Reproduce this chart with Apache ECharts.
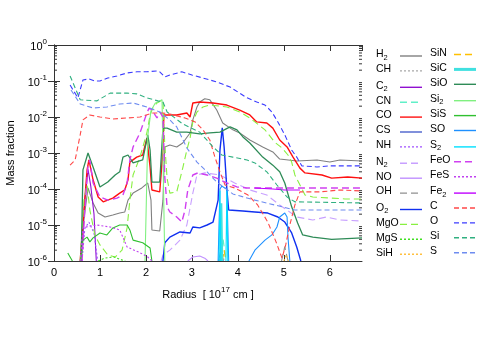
<!DOCTYPE html>
<html>
<head>
<meta charset="utf-8">
</head>
<body style="margin:0">
<div id="main" style="width:491px;height:343px"></div>
<script src="https://cdn.jsdelivr.net/npm/echarts@6/dist/echarts.min.js"></script>
<script>
// abundance profiles, [radius in 1e17 cm, mass fraction]
var H2 = [[0.59,1e-6],[0.65,1.4e-5],[0.74,1.07e-4],[0.85,4.1e-5],[0.96,2.15e-5],[1.11,1.67e-5],[1.28,1.9e-5],[1.43,2.15e-5],[1.54,2.3e-5],[1.61,4.9e-5],[1.72,7.7e-5],[1.91,1.07e-4],[2.04,1.47e-4],[2.11,4.9e-5],[2.13,7.3e-6],[2.30,6.8e-6],[2.37,4.9e-5],[2.41,1.47e-3],[2.52,1.67e-3],[2.67,1.47e-3],[2.80,1.9e-3],[2.96,3.6e-3],[3.02,8.3e-3],[3.11,1.9e-2],[3.17,2.6e-2],[3.28,3.2e-2],[3.39,3.0e-2],[3.54,1.56e-2],[3.67,6.8e-3],[3.89,4.4e-3],[4.04,3.6e-3],[4.26,2.3e-3],[4.54,1.47e-3],[4.76,1.07e-3],[4.91,6.8e-4],[5.28,6.0e-4],[5.72,6.4e-4],[6.0,5.6e-4],[6.22,6.4e-4],[6.7,6.0e-4]];
var CH = [[3.60,1e-6],[3.64,3e-6],[3.70,1e-6]];
var C2 = [[0.59,1e-6],[0.67,5e-5],[0.74,3.5e-4],[0.80,1.2e-4],[0.87,2e-5],[0.92,1e-6]];
var CN = [[3.62,1e-6],[3.68,4e-6],[3.74,1e-6]];
var CO = [[0.57,1e-6],[0.63,1.14e-5],[0.72,3.4e-4],[0.76,6.4e-4],[0.85,1.8e-4],[0.96,6.0e-5],[1.07,4.4e-5],[1.28,5.6e-5],[1.43,7.7e-5],[1.54,9.4e-5],[1.61,1.8e-4],[1.65,5.6e-4],[1.80,7.7e-4],[1.93,8.8e-4],[2.02,2.6e-3],[2.09,4.1e-4],[2.13,9.4e-5],[2.30,8.3e-5],[2.37,1.21e-3],[2.39,1.14e-2],[2.67,1.14e-2],[2.89,1.29e-2],[2.96,1.0e-2],[3.02,2.45e-2],[3.17,2.6e-2],[3.46,2.45e-2],[3.76,2.15e-2],[4.04,1.56e-2],[4.26,1.14e-2],[4.41,7.3e-3],[4.63,6.8e-3],[4.76,4.9e-3],[4.91,2.3e-3],[5.07,1.47e-3],[5.20,7.7e-4],[5.35,3.8e-4],[5.46,2.8e-4],[5.83,2.45e-4],[6.04,2.0e-4],[6.39,2.15e-4],[6.7,2.0e-4]];
var CS = [[3.58,1e-6],[3.63,2e-6],[3.68,1e-6]];
var NH = [[0.61,1e-6],[0.67,8e-6],[0.76,1.2e-5],[0.87,6e-6],[0.95,1e-6]];
var N2 = [[2.33,1e-6],[2.37,1.47e-6],[2.52,2.0e-6],[2.74,3.8e-6],[2.89,1.0e-5],[3.02,7.7e-5],[3.11,2.45e-4],[3.28,2.8e-4],[3.61,2.45e-4],[3.93,1.47e-4],[4.26,9.4e-5],[4.63,6.8e-5],[4.91,3.6e-5],[5.28,1.67e-5],[5.63,1.38e-5],[5.93,1.67e-5],[6.22,1.38e-5],[6.7,1.29e-5]];
var NO = [[2.91,1e-6],[3.02,1.29e-6],[3.17,1.38e-6],[3.28,1.2e-6],[3.35,1e-6]];
var OH = [[4.95,1e-6],[5.02,2.5e-6],[5.09,1e-6]];
var O2 = [[2.37,1e-6],[2.41,3.2e-6],[2.52,4.6e-6],[2.74,6.4e-6],[2.96,6.0e-6],[3.02,8.8e-6],[3.17,8.3e-6],[3.33,1.0e-5],[3.46,1.21e-5],[3.57,4.9e-5],[3.61,1.2e-3],[3.66,5.0e-3],[3.70,1.5e-3],[3.72,6.4e-4],[3.76,1.0e-4],[3.80,2.6e-5],[4.11,2.45e-5],[4.37,2.3e-5],[4.65,2.15e-5],[4.87,1.67e-5],[5.02,1.21e-5],[5.09,8.8e-6],[5.17,6.0e-6],[5.28,2.45e-6],[5.37,1e-6]];
var MgO = [[0.57,1e-6],[0.65,4.9e-5],[0.72,1.29e-4],[0.78,2.6e-5],[0.89,5.3e-6],[1.0,2.8e-6],[1.17,1.47e-6],[1.33,1.29e-6],[1.48,2.0e-6],[1.59,8.3e-6],[1.65,4.9e-5],[1.72,2.45e-4],[1.87,7.7e-4],[2.02,3.6e-3],[2.09,1.14e-2],[2.15,1.78e-2],[2.24,2.45e-2],[2.37,3.0e-2],[2.39,3.0e-2],[2.41,1.67e-3],[2.46,2.0e-4],[2.52,7.7e-5],[2.67,8.3e-5],[2.80,3.8e-4],[2.89,1.21e-3],[2.96,2.6e-3],[3.02,7.3e-3],[3.11,1.38e-2],[3.24,1.9e-2],[3.39,2.15e-2],[3.76,1.9e-2],[4.04,1.38e-2],[4.26,9.4e-3],[4.37,7.3e-3],[4.59,4.4e-3],[4.80,2.0e-3],[4.96,1.38e-3],[5.09,8.8e-4],[5.17,5.6e-4],[5.24,2.45e-4],[5.35,1.29e-4],[5.46,6.8e-5],[5.63,6.0e-5],[6.33,5.3e-5],[6.7,5.3e-5]];
var MgS = [[0.96,1e-6],[1.1,1.2e-6],[1.3,1.3e-6],[1.45,1.1e-6],[1.55,1e-6]];
var SiH = [[5.0,1e-6],[5.05,1.5e-6],[5.1,1e-6]];
var SiN = [[3.66,1e-6],[3.7,2e-6],[3.74,1e-6]];
var SiC = [[3.62,1e-6],[3.64,4e-5],[3.66,1e-6]];
var SiO = [[0.59,1e-6],[0.63,3.4e-4],[0.74,1.0e-3],[0.85,4.1e-4],[1.0,1.14e-4],[1.17,1.56e-4],[1.33,2.45e-4],[1.43,3.0e-4],[1.50,7.7e-4],[1.61,8.8e-4],[1.72,5.3e-4],[1.93,6.4e-4],[2.04,3.2e-3],[2.09,1.21e-3],[2.13,1.56e-4],[2.30,1.56e-4],[2.37,4.9e-3],[2.46,4.9e-3],[2.67,3.8e-3],[2.89,3.8e-3],[3.17,3.4e-3],[3.39,3.6e-3],[3.61,3.8e-3],[3.83,5.3e-3],[3.98,4.4e-3],[4.11,2.8e-3],[4.26,1.9e-3],[4.54,7.7e-4],[4.76,4.6e-4],[4.91,3.0e-4],[5.02,1.47e-4],[5.17,3.2e-5],[5.30,1.14e-5],[5.41,5.3e-6],[5.63,4.6e-6],[6.04,4.0e-6],[6.7,4.4e-6]];
var Si2 = [[1.98,1e-6],[2.04,3e-3],[2.11,1.5e-2],[2.20,2.4e-2],[2.35,3.0e-2],[2.39,2.8e-2],[2.41,1e-6]];
var SiS = [[0.30,1.67e-6],[0.40,1e-6],[0.5,null],[0.59,1e-6],[0.63,3.8e-6],[0.72,4.6e-6],[0.78,3.4e-6],[0.85,4.4e-6],[1.0,6.0e-6],[1.15,5.3e-6],[1.28,8.3e-6],[1.43,1.0e-5],[1.59,1.0e-5],[1.65,7.3e-6],[1.72,3.8e-6],[1.93,3.2e-6],[2.09,2.3e-6],[2.13,1e-6]];
var SO = [[3.57,1e-6],[3.61,1.0e-4],[3.65,1.2e-4],[3.70,1.1e-4],[3.76,1.0e-4],[3.80,1e-6],[4.0,null],[4.24,1e-6],[4.37,2.0e-6],[4.59,3.8e-6],[4.74,5.3e-6],[4.85,8.8e-6],[4.91,1.67e-5],[5.02,2.15e-5],[5.07,1.67e-5],[5.09,4.6e-6],[5.13,1e-6]];
var S2 = [[3.59,1e-6],[3.61,9e-5],[3.63,1e-6],[3.7,null],[3.74,1e-6],[3.76,9e-5],[3.78,1e-6]];
var FeO = [[0.61,1e-6],[0.67,2.6e-5],[0.74,4.6e-4],[0.78,6.4e-4],[0.85,1.47e-4],[1.0,6.0e-5],[1.17,4.9e-5],[1.37,5.6e-5],[1.50,6.8e-5],[1.59,1.47e-4],[1.65,6.4e-4],[1.72,1.47e-3],[1.87,3.6e-3],[2.02,1.29e-2],[2.07,1.78e-2],[2.13,1.56e-2],[2.24,9.4e-3],[2.30,1.38e-2],[2.37,1.0e-2],[2.41,2.15e-4],[2.46,3.2e-5],[2.52,2.3e-5],[2.67,1.67e-5],[2.78,1.21e-5],[2.85,2.6e-5],[2.91,9.4e-5],[3.02,2.45e-4],[3.13,2.8e-4],[3.33,2.45e-4],[3.54,2.0e-4],[3.76,1.47e-4],[3.98,1.14e-4],[4.20,1.07e-4],[4.91,1.07e-4],[5.78,1.07e-4],[6.7,1.07e-4]];
var FeS = [[0.57,1e-6],[0.63,8.3e-6],[0.78,9.4e-6],[0.93,1.0e-5],[1.22,8.8e-6],[1.43,7.3e-6],[1.59,2.45e-6],[1.87,1.7e-6],[2.04,1.29e-6],[2.13,1e-6]];
var Fe2 = [[4.37,1.07e-4],[4.76,1.0e-4],[5.02,9.4e-5],[5.35,9.4e-5]];
var C = [[0.35,4.6e-4],[0.46,6.4e-4],[0.57,3.2e-3],[0.63,8.3e-3],[0.78,1.14e-2],[1.0,1.0e-2],[1.28,8.8e-3],[1.59,9.4e-3],[1.87,1.0e-2],[2.15,1.29e-2],[2.37,1.29e-2],[2.52,1.21e-2],[2.85,9.4e-3],[3.07,7.3e-3],[3.24,4.4e-3],[3.39,2.3e-3],[3.50,7.7e-4],[3.61,3.0e-4],[3.72,1.29e-4],[3.93,1.07e-4],[4.22,6.8e-5],[4.43,3.6e-5],[4.65,1.21e-5],[4.83,3.4e-6],[4.96,1.2e-6],[5.04,2.8e-6],[5.13,1.0e-5],[5.24,3.6e-5],[5.35,8.3e-5],[5.78,8.3e-5],[6.22,9.4e-5],[6.7,8.8e-5]];
var O = [[0.35,7.7e-2],[0.52,3.4e-2],[0.63,1.07e-1],[0.76,1.14e-1],[0.89,1.0e-1],[1.0,1.0e-1],[1.17,1.21e-1],[1.37,1.38e-1],[1.59,1.67e-1],[1.80,1.8e-1],[2.02,1.8e-1],[2.24,1.9e-1],[2.30,1.8e-1],[2.41,1.29e-1],[2.52,1.47e-1],[2.78,1.8e-1],[3.0,1.47e-1],[3.24,1.21e-1],[3.54,9.4e-2],[3.83,6.8e-2],[4.20,3.4e-2],[4.41,2.6e-2],[4.59,2.15e-2],[4.74,1.38e-2],[4.87,7.3e-3],[5.02,3.2e-3],[5.17,1.21e-3],[5.28,7.7e-4],[5.39,4.4e-4],[5.72,4.1e-4],[6.0,4.4e-4],[6.7,4.4e-4]];
var Si = [[0.35,1.38e-1],[0.57,3.0e-2],[0.93,2.8e-2],[1.22,4.6e-2],[1.59,4.6e-2],[1.80,4.4e-2],[2.02,3.4e-2],[2.26,2.8e-2],[2.37,2.6e-2],[2.46,1.38e-2],[2.80,6.4e-3],[3.17,3.8e-3],[3.46,1.47e-3],[3.65,8.8e-4],[3.89,7.7e-4],[4.20,6.4e-4],[4.37,5.3e-4],[4.63,3.0e-4],[4.85,1.29e-4],[5.07,6.0e-5],[5.24,4.4e-5],[6.7,4.1e-5]];
var S = [[0.37,5.6e-2],[0.57,2.3e-2],[0.85,1.78e-2],[1.15,1.9e-2],[1.43,2.3e-2],[1.72,2.45e-2],[2.02,1.9e-2],[2.30,1.38e-2],[2.52,8.3e-3],[2.67,5.3e-3],[2.89,1.38e-3],[3.11,5.6e-4],[3.33,3.0e-4],[3.54,1.56e-4],[3.89,7.3e-5],[4.37,4.9e-5],[4.80,3.6e-5],[5.24,2.6e-5],[6.7,2.6e-5]];

var legendCol1 = ['H2','CH','C2','CN','CO','CS','NH','N2','NO','OH','O2','MgO','MgS','SiH'];
var legendCol2 = ['SiN','SiC','SiO','Si2','SiS','SO','S2','FeO','FeS','Fe2','C','O','Si','S'];

var profiles = {H2:H2, CH:CH, C2:C2, CN:CN, CO:CO, CS:CS, NH:NH, N2:N2, NO:NO, OH:OH, O2:O2, MgO:MgO, MgS:MgS, SiH:SiH,
    SiN:SiN, SiC:SiC, SiO:SiO, Si2:Si2, SiS:SiS, SO:SO, S2:S2, FeO:FeO, FeS:FeS, Fe2:Fe2, C:C, O:O, Si:Si, S:S};

// colour, dash, width
var dashLong = [7, 4], dashShort = [5, 3], dot = [2, 2];
var looks = {
    H2: ['#808080', 'solid'], CH: ['#a8a8a8', dot], C2: ['#9010d0', 'solid'], CN: ['#60f0c8', dashLong],
    CO: ['#ff1010', 'solid', 1.4], CS: ['#4a60cc', 'solid'], NH: ['#a050ff', dot], N2: ['#c8a0ff', dashLong],
    NO: ['#c090ff', 'solid'], OH: ['#909090', dashLong], O2: ['#1030f0', 'solid', 1.4], MgO: ['#88f040', dashLong],
    MgS: ['#40e020', dot], SiH: ['#ffc040', dot], SiN: ['#ffc000', dashLong], SiC: ['#40e0e0', 'solid', 2],
    SiO: ['#2e8b57', 'solid', 1.3], Si2: ['#80f080', 'solid'], SiS: ['#30c030', 'solid'], SO: ['#1e90ff', 'solid'],
    S2: ['#00e0ff', 'solid'], FeO: ['#d040f0', dashLong, 1.4], FeS: ['#c040f0', dot], Fe2: ['#c000ff', 'solid'],
    C: ['#ff4848', dashShort], O: ['#3c3cff', dashShort], Si: ['#30b080', dashShort], S: ['#6e8cf0', dashShort]
};

var series = legendCol1.concat(legendCol2).map(function (name) {
    var lk = looks[name];
    return {
        name: name, type: 'line', data: profiles[name], symbol: 'none', silent: true,
        lineStyle: {color: lk[0], type: lk[1], width: lk[2] || 1.1},
        itemStyle: {color: lk[0]}
    };
});

// log minor ticks (2..9 per decade), drawn on both vertical borders
var minorTicks = [];
for (var e = -6; e < 0; e++) for (var k = 2; k <= 9; k++) minorTicks.push([0, k * Math.pow(10, e)]);
series.push({
    type: 'custom', silent: true, data: minorTicks, encode: {x: 0, y: 1}, z: 1,
    renderItem: function (params, api) {
        var l = api.coord([0, api.value(1)]);
        var r = api.coord([6.7, api.value(1)]);
        var st = {stroke: '#333', lineWidth: 1};
        return {type: 'group', children: [
            {type: 'line', shape: {x1: l[0], y1: l[1], x2: l[0] + 3, y2: l[1]}, style: st},
            {type: 'line', shape: {x1: r[0], y1: r[1], x2: r[0] - 3, y2: r[1]}, style: st}
        ]};
    }
});

function legendText(name) {
    var m = name.match(/^(\D+)(\d?)$/);
    return '{n|' + m[1] + '}' + (m[2] ? '{s|' + m[2] + '}' : '');
}
function makeLegend(names, left) {
    return {
        data: names.map(function (n) {
            return n === 'SiC' ? {name: n, lineStyle: {width: 3}} : {name: n};
        }),
        orient: 'vertical', left: left, top: 47.5, padding: 0,
        align: 'right', itemWidth: 22, itemHeight: 15, itemGap: 1.9, selectedMode: false,
        itemStyle: {opacity: 0, borderWidth: 0},
        lineStyle: {width: 1.4},
        formatter: legendText,
        textStyle: {
            width: 19, height: 15, fontFamily: 'Liberation Sans', color: '#000',
            rich: {
                n: {fontSize: 10.5, lineHeight: 12, align: 'left', fontFamily: 'Liberation Sans', color: '#000'},
                s: {fontSize: 7.5, lineHeight: 7, padding: [6, 0, 0, 0], align: 'left', fontFamily: 'Liberation Sans', color: '#000'}
            }
        }
    };
}

var axisFont = {fontFamily: 'Liberation Sans', fontSize: 11, color: '#000'};
var supRich = {
    b: {fontSize: 11, lineHeight: 14, verticalAlign: 'bottom', fontFamily: 'Liberation Sans', color: '#000'},
    p: {fontSize: 8, lineHeight: 8, padding: [0, 0, 6, 0], fontFamily: 'Liberation Sans', color: '#000'}
};
var frame = {show: true, lineStyle: {color: '#333', width: 1}};

var option = {
    animation: false,
    grid: {left: 54, top: 45, width: 308, height: 216, outerBoundsMode: 'none'},
    legend: [makeLegend(legendCol1, 376), makeLegend(legendCol2, 430)],
    xAxis: [{
        type: 'value', min: 0, max: 6.7, interval: 1,
        name: '{b|Radius  [ 10}{p|17}{b| cm ]}', nameLocation: 'middle', nameGap: 25,
        nameTextStyle: {rich: supRich},
        axisLine: frame, splitLine: {show: false},
        axisTick: {inside: true, length: 6, lineStyle: {color: '#333'}},
        axisLabel: Object.assign({margin: 6, showMaxLabel: false}, axisFont)
    }, {
        type: 'value', position: 'top', min: 0, max: 6.7, interval: 1,
        axisLine: frame, splitLine: {show: false},
        axisTick: {inside: true, length: 6, lineStyle: {color: '#333'}},
        axisLabel: {show: false}
    }],
    yAxis: [{
        type: 'log', logBase: 10, min: 1e-6, max: 1,
        name: 'Mass fraction', nameLocation: 'middle', nameGap: 36,
        nameTextStyle: axisFont,
        axisLine: frame, splitLine: {show: false},
        axisTick: {inside: true, length: 6, lineStyle: {color: '#333'}},
        axisLabel: {
            margin: 7,
            formatter: function (v) { return '{b|10}{p|' + Math.round(Math.log10(v)) + '}'; },
            rich: supRich
        }
    }, {
        type: 'log', logBase: 10, min: 1e-6, max: 1, position: 'right',
        axisLine: frame, splitLine: {show: false},
        axisTick: {inside: true, length: 6, lineStyle: {color: '#333'}},
        axisLabel: {show: false}
    }],
    series: series
};

var chart = echarts.init(document.getElementById('main'));
chart.setOption(option);
</script>
</body>
</html>
